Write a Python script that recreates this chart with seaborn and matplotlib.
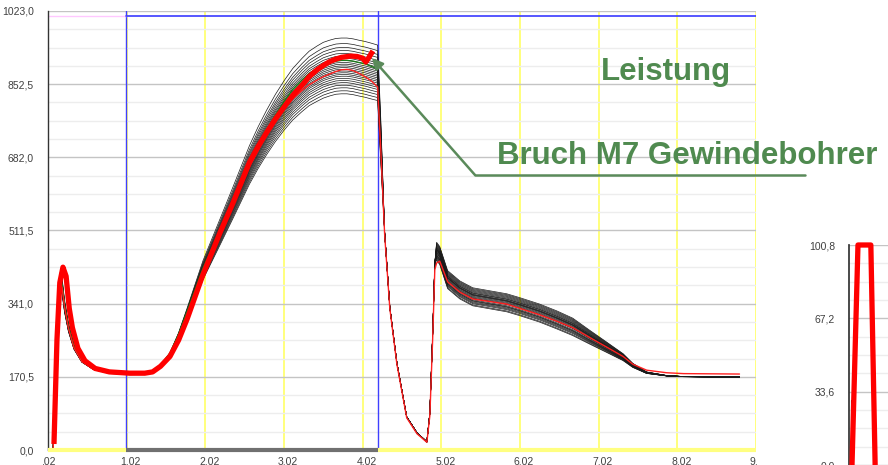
import numpy as np
import pandas as pd
import matplotlib
matplotlib.use("Agg")
import matplotlib.pyplot as plt
import matplotlib.transforms as mtransforms
from matplotlib.lines import Line2D
from matplotlib.patches import FancyArrowPatch
import seaborn as sns

# ---------------- data ----------------
X = [0.02, 0.085, 0.11, 0.14, 0.17, 0.20, 0.23, 0.28, 0.35, 0.45,
     0.60, 0.80, 1.06, 1.25, 1.35, 1.45, 1.57, 1.68, 1.79, 1.99,
     2.21, 2.37, 2.58, 2.69, 2.80, 2.91, 3.02, 3.13, 3.25, 3.34,
     3.44, 3.52, 3.60, 3.68, 3.75, 3.82, 3.90, 3.97, 4.05, 4.13,
     4.21, 4.25, 4.30, 4.365, 4.455, 4.58, 4.71, 4.836, 4.874, 4.912,
     4.937, 4.96, 5.00, 5.10, 5.255, 5.42, 5.636, 5.852, 6.017, 6.27,
     6.49, 6.69, 6.907, 7.12, 7.33, 7.453, 7.63, 7.885, 8.10, 8.81]

BASE = [0, 0, 130, 320, 392, 380, 335, 285, 240, 207,
        188, 179, 176, 177, 181, 196, 222, 265, 318, 418,
        508, 574, 662, 702, 738, 771, 800, 826, 848, 863,
        874, 882, 887, 891, 892, 892, 890, 887, 884, 880,
        876, 720, 505, 333, 203, 77, 40, 19, 86, 280,
        435, 462, 452, 396, 372, 356, 349, 342, 333, 318,
        302, 286, 262, 239, 216, 197, 180, 173, 171, 170]

THIN_RED = [0, 0, 120, 310, 388, 378, 333, 283, 238, 206,
            188, 180, 178, 178, 182, 195, 218, 258, 310, 412,
            505, 570, 660, 698, 735, 766, 795, 818, 838, 851,
            862, 870, 876, 882, 886, 887, 884, 878, 870, 860,
            846, 700, 500, 330, 200, 75, 38, 18, 80, 270,
            420, 436, 440, 392, 368, 352, 346, 340, 330, 315,
            300, 285, 262, 240, 218, 200, 186, 180, 178, 177]

GREEN_X = [0.02, 0.085, 0.11, 0.14, 0.17, 0.20, 0.23, 0.28, 0.35, 0.45,
           0.60, 0.80, 1.06, 1.25, 1.35, 1.45, 1.57, 1.68, 1.79, 1.99,
           2.21, 2.37, 2.58, 2.69, 2.80, 2.91, 3.02, 3.13, 3.25, 3.34,
           3.44, 3.52, 3.60, 3.68, 3.75, 3.82, 3.90, 3.97, 4.05, 4.13,
           4.21]
GREEN = [0, 0, 140, 330, 398, 385, 338, 287, 242, 208,
         188, 179, 176, 177, 182, 198, 226, 270, 324, 424,
         512, 578, 666, 707, 745, 780, 812, 840, 862, 877,
         890, 897, 903, 906, 908, 908, 906, 903, 900, 894,
         888]

# spread of the individual black reference runs (peak zone / tail zone)
PEAK_OFFSETS = [68, 55, 46, 39, 32, 26, 21, 16, 11, 7, 3, -1,
                -5, -9, -13, -17, -21, -26, -31, -36, -42, -48, -55, -62]
TAIL_OFFSETS = [12, -8, 20, 5, -15, 9, -3, 16, -20, 2, 7, -11,
                14, -6, 0, 18, -13, 4, -18, 10, -2, 22, -9, 6]

# the broken-tap run (thick red)
RED_X = [0.096, 0.134, 0.17, 0.21, 0.25, 0.29, 0.33, 0.40, 0.49, 0.62,
         0.80, 1.06, 1.25, 1.35, 1.45, 1.57, 1.68, 1.79, 1.99, 2.21,
         2.37, 2.58, 2.69, 2.80, 2.91, 3.02, 3.13, 3.25, 3.34, 3.44,
         3.52, 3.60, 3.68, 3.75, 3.87, 3.95, 4.02, 4.06, 4.10, 4.15]
RED_Y = [14, 257, 390, 426, 405, 330, 285, 237, 208, 190,
         182, 179, 179, 182, 195, 218, 256, 306, 409, 508,
         575, 670, 707, 740, 771, 799, 826, 850, 870, 886,
         896, 905, 911, 915, 918, 917, 913, 904, 915, 930]

# small side panel
SIDE_X = [0.77, 2.3, 5.6, 6.7]
SIDE_Y = [0.0, 100.8, 100.8, 0.0]
SIDE_BLACK_X = [0.45, 0.45]
SIDE_BLACK_Y = [0.0, 30.0]

Y_TICKS = [0.0, 170.5, 341.0, 511.5, 682.0, 852.5, 1023.0]
Y_LABELS = ["0,0", "170,5", "341,0", "511,5", "682,0", "852,5", "1023,0"]
X_TICKS = [0.02, 1.02, 2.02, 3.02, 4.02, 5.02, 6.02, 7.02, 8.02, 9.02]
X_LABELS = [",02", "1,02", "2,02", "3,02", "4,02", "5,02", "6,02", "7,02", "8,02", "9,"]
SIDE_TICKS = [0.0, 33.6, 67.2, 100.8]
SIDE_LABELS = ["0,0", "33,6", "67,2", "100,8"]

CURSOR_X = [1.008, 4.213]
# ---------------------------------------------------------------

sns.set_theme(style="white")
plt.rcParams["font.family"] = ["Liberation Sans", "DejaVu Sans"]

W, H = 888, 465
fig = plt.figure(figsize=(W / 100, H / 100), dpi=100)


def fbox(l, t, r, b):
    return [l / W, 1 - b / H, (r - l) / W, (b - t) / H]


ax = fig.add_axes(fbox(48, 11, 756, 450))
ax.set_xlim(X_TICKS[0], X_TICKS[-1])
ax.set_ylim(Y_TICKS[0], Y_TICKS[-1])

# grid
ax.set_yticks(Y_TICKS, Y_LABELS)
minor = np.arange(0, 1023.0 + 1, 1023.0 / 24)
ax.set_yticks(minor, minor=True)
ax.grid(which="minor", axis="y", color="#ededed", lw=1, zorder=0)
ax.grid(which="major", axis="y", color="#c4c4c4", lw=1, zorder=0)
ax.set_xticks(X_TICKS, [""] * len(X_TICKS))
ax.grid(which="major", axis="x", color="#ffff66", lw=1.2, zorder=0)
ax.tick_params(axis="both", which="both", length=0)
ax.tick_params(axis="y", labelsize=7.5, labelcolor="#404040", pad=10)
for s in ["top", "right", "bottom"]:
    ax.spines[s].set_visible(False)
ax.spines["left"].set_color("#333333")
ax.spines["left"].set_linewidth(1)

# x labels as drawn
offs = [0, 4, 4, 4, 4, 4, 4, 4, 4, -2]
for t, lab, o in zip(X_TICKS, X_LABELS, offs):
    tr = ax.get_xaxis_transform() + mtransforms.ScaledTranslation(o / 100, -11 / 100, fig.dpi_scale_trans)
    ax.text(t, 0, lab, transform=tr, ha="center", va="center", fontsize=7.5, color="#404040")

# cursor lines
for cx in CURSOR_X:
    ax.axvline(cx, color="#4040ff", lw=1, zorder=1)
ax.plot([X_TICKS[0], CURSOR_X[0]], [1011, 1011], color="#ffc8ff", lw=1, zorder=1)
ax.plot([CURSOR_X[0], X_TICKS[-1]], [1011, 1011], color="#3a3aff", lw=1.2, zorder=1)

# black reference runs
xa = np.array(X)
ba = np.array(BASE, dtype=float)
w_peak = np.where(xa <= 4.25, np.clip((ba - 180) / 700, 0, 1), 0)
w_tail = np.where(xa >= 4.96, np.clip((ba - 170) / 120, 0, 1), 0)
rows = []
for i, (po, to) in enumerate(zip(PEAK_OFFSETS, TAIL_OFFSETS)):
    ys = ba + po * w_peak + to * w_tail
    rows.append(pd.DataFrame({"x": xa, "y": ys, "run": i}))
df = pd.concat(rows, ignore_index=True)
sns.lineplot(data=df, x="x", y="y", units="run", estimator=None, color="#1a1a1a",
             lw=0.5, sort=False, legend=False, ax=ax, zorder=2)

sns.lineplot(x=GREEN_X, y=GREEN, color="#1a7a1a", lw=1.0, sort=False, ax=ax, zorder=3)
sns.lineplot(x=X, y=THIN_RED, color="#ff2020", lw=1.0, sort=False, ax=ax, zorder=3)
sns.lineplot(x=RED_X, y=RED_Y, color="#ff0000", lw=3.8, sort=False, ax=ax, zorder=5,
             solid_capstyle="butt", solid_joinstyle="round")
ax.set_xlabel("")
ax.set_ylabel("")

# bottom status bar
ax.plot([X_TICKS[0], CURSOR_X[0]], [0, 0], color="#ffff80", lw=3, clip_on=False,
        solid_capstyle="butt", zorder=6)
ax.plot([CURSOR_X[0], CURSOR_X[1]], [0, 0], color="#707070", lw=3, clip_on=False,
        solid_capstyle="butt", zorder=6)
ax.plot([CURSOR_X[1], X_TICKS[-1]], [0, 0], color="#ffff80", lw=3, clip_on=False,
        solid_capstyle="butt", zorder=6)

# side panel
ax2 = fig.add_axes(fbox(849, 245, 888, 465))
ax2.set_xlim(0, 10)
ax2.set_ylim(0, 100.8)
ax2.set_yticks(SIDE_TICKS, SIDE_LABELS)
ax2.set_yticks(np.arange(0, 100.8 + 0.1, 8.4), minor=True)
ax2.grid(which="minor", axis="y", color="#ededed", lw=1, zorder=0)
ax2.grid(which="major", axis="y", color="#c4c4c4", lw=1, zorder=0)
ax2.set_xticks([])
ax2.tick_params(axis="both", which="both", length=0)
ax2.tick_params(axis="y", labelsize=7.5, labelcolor="#404040", pad=10)
for s in ["top", "right", "bottom"]:
    ax2.spines[s].set_visible(False)
ax2.spines["left"].set_color("#333333")
ax2.plot(SIDE_BLACK_X, SIDE_BLACK_Y, color="black", lw=0.8, zorder=2)
ax2.plot(SIDE_X, SIDE_Y, color="#ff0000", lw=3.8, clip_on=False, zorder=5,
         solid_joinstyle="round", solid_capstyle="butt")

# annotations
green = "#4f8a4f"
fig.text(601 / W, 1 - 72 / H, "Leistung", ha="left", va="center", fontsize=22.5,
         fontweight="bold", color=green)
fig.text(497 / W, 1 - 156 / H, "Bruch M7 Gewindebohrer", ha="left", va="center",
         fontsize=22.5, fontweight="bold", color=green)
fig.add_artist(Line2D([805 / W, 475 / W], [1 - 175 / H, 1 - 175 / H],
                      transform=fig.transFigure, color="#5a8a5a", lw=1.8))
arr = FancyArrowPatch((475 / W, 1 - 175 / H), (372 / W, 1 - 58 / H),
                      transform=fig.transFigure, arrowstyle="-|>", mutation_scale=16,
                      color="#5a8a5a", lw=1.8, shrinkA=0, shrinkB=0)
fig.add_artist(arr)

fig.savefig("out.png", dpi=100)
